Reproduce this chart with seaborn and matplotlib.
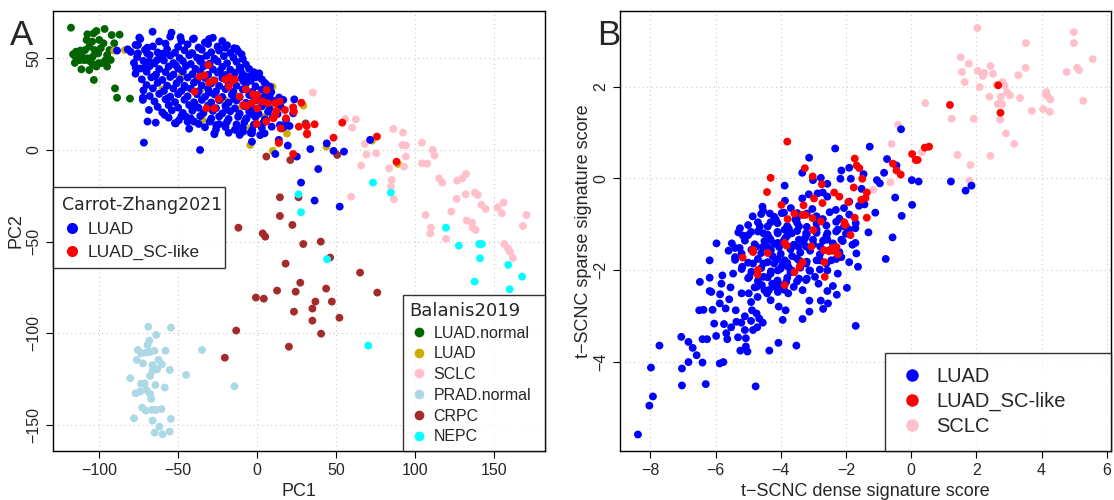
import matplotlib
matplotlib.use("Agg")
import matplotlib.pyplot as plt
import seaborn as sns
import pandas as pd
from matplotlib.lines import Line2D

# ---------------- Panel A data (PC1, PC2) ----------------
luad_normal_x = [-117.9, -107.5, -103.6, -101.8, -96.6, -92.1, -87.1, -112.0, -116.6, -114.7, -110.9, -108.6,
                 -104.1, -100.7, -95.0, -92.7, -97.3, -90.5, -106.3, -101.8, -111.3, -106.3, -103.4, -90.0,
                 -88.7, -80.5, -98.5, -95.0, -108.0, -104.5, -100.0, -110.0, -105.5, -115.0, -109.0, -103.0,
                 -99.0, -93.5, -96.0, -100.5, -104.0, -107.5, -112.5, -115.5]
luad_normal_y = [66.7, 63.1, 63.6, 64.9, 66.0, 62.7, 62.9, 54.2, 52.2, 53.6, 50.9, 49.1,
                 50.9, 52.7, 51.8, 49.1, 58.2, 58.2, 56.4, 45.5, 44.0, 43.6, 38.2, 33.6,
                 28.5, 28.0, 47.4, 45.5, 60.0, 59.1, 60.0, 49.1, 48.2, 50.9, 54.5, 54.5,
                 55.5, 54.5, 49.0, 47.3, 46.6, 50.0, 49.0, 47.5]

balanis_luad_x = [-90.5, -83.7, -75.7, -52.0, -42.0, -34.5, -22.4, -4.3, 9.8, 13.8, 29.3, 44.0,
                  89.3, -36.0, 72.8, -4.3, -60.0, -48.0, -20.0, -12.0, -66.0, 5.0, 10.0, -28.0, 19.0]
balanis_luad_y = [54.2, 54.5, 56.9, 53.0, 53.0, 16.4, 56.4, 2.7, 34.5, 3.6, 24.2, 1.8,
                  -7.6, 32.7, 5.1, 11.8, 33.0, 40.0, 27.0, 22.0, 48.0, 18.0, -0.5, 38.0, 9.0]

sclc_a_x = [35.4, 55.8, 62.6, 60.3, 86.4, 92.5, 92.1, 94.3, 94.3, 93.2, 83.7, 68.3, 69.4, 75.5, 66.0,
            104.5, 111.3, 112.5, 104.5, 107.9, 115.4, 117.4, 126.8, 130.2, 132.4, 85.3, 84.8, 86.8, 59.6,
            106.8, 123.1, 126.5, 132.2, 138.1, 139.9, 142.2, 144.9, 152.4, 156.2, 155.1, 170.7, 168.5,
            132.9, 136.3, 136.7, 138.5, 110.2, 109.8, 119.7, 156.7, 159.0, 160.3, 162.1]
sclc_a_y = [31.3, 16.9, 16.7, 12.2, 11.5, 9.5, 2.7, 2.4, -3.6, -9.1, -10.0, 3.3, -2.5, -1.8, -8.5,
            4.0, 0.0, -3.1, -7.3, -7.5, -15.5, -17.8, -16.7, -15.5, -13.1, -16.4, -20.0, -26.9, -25.5,
            -35.5, -33.6, -26.7, -24.2, -23.3, -24.5, -30.0, -32.2, -31.3, -28.7, -34.5, -35.5, -41.5,
            -38.5, -39.6, -42.4, -43.6, -42.4, -45.5, -48.5, -51.3, -53.6, -55.5, -58.9]

prad_x = [-68.9, -54.6, -63.9, -68.3, -69.4, -75.5, -73.5, -70.1, -67.8, -65.1, -58.0, -34.9, -76.2,
          -72.3, -62.4, -60.3, -66.2, -55.3, -63.3, -66.2, -67.8, -44.9, -80.3, -73.5, -71.2, -74.1,
          -70.1, -67.8, -64.4, -58.5, -14.3, -67.1, -72.8, -70.5, -66.7, -64.0, -60.5, -78.0, -66.2,
          -54.6, -61.9, -64.9, -59.9, -55.3, -76.9]
prad_y = [-96.4, -96.9, -100.9, -104.0, -106.4, -109.1, -110.9, -110.5, -110.2, -109.5, -109.5, -109.1,
          -114.5, -116.4, -114.5, -116.9, -117.3, -120.0, -119.6, -120.4, -123.3, -122.7, -124.5,
          -127.6, -127.3, -131.8, -130.9, -133.1, -128.2, -129.6, -128.9, -135.8, -140.5, -142.2,
          -141.8, -141.8, -141.3, -146.4, -147.6, -146.7, -150.9, -154.2, -155.1, -153.6, -132.7]

crpc_x = [5.9, 21.1, 50.8, 30.8, 14.5, 26.3, 14.5, 22.4, -11.8, 3.6, 5.2, 29.3, 40.4,
          46.3, 18.1, 65.3, 27.4, 12.7, 24.5, 43.8, 76.2, -0.7, 4.3, 37.0, 47.4, 35.1, 23.4,
          52.2, 35.1, -13.2, 40.6, 20.2, -20.4]
crpc_y = [-3.6, -5.5, -2.7, 14.5, -25.8, -25.8, -36.0, -40.9, -42.4, -45.5, -47.3, -51.3, -50.0,
          -58.7, -62.0, -66.9, -72.4, -76.7, -77.3, -75.6, -77.8, -80.5, -81.1, -82.7, -82.7, -86.5,
          -88.2, -91.5, -93.1, -98.5, -100.2, -107.3, -113.3]

nepc_x = [73.5, 84.8, 26.3, 27.9, 119.7, 127.9, 140.8, 142.5, 44.4, 141.3, 159.2, 168.0, 137.9, 160.1, 70.5]
nepc_y = [-17.8, -23.3, -24.2, -34.0, -42.4, -52.2, -51.3, -51.3, -59.6, -59.1, -62.7, -69.1, -71.8, -76.0, -106.7]

luad_a_x = [-88.7, -81.9, -74.6, -66.2, -54.2, -48.5, -40.6, -30.4, -20.2, -14.5, -9.8, -75.5, -75.5, -76.9,
            -70.5, -69.6, -68.3, -63.3, -58.7, -72.3, -72.3, -68.5, -69.4, -64.2, -71.7, -58.5, -51.5, -45.1,
            -39.9, -36.1, -27.0, -25.9, -20.2, -13.4, -8.8, -3.2, -3.2, 4.8, 11.6, 13.8, 19.5, 25.2, 33.8,
            38.8, 27.9, 36.5, 52.4, 44.2, 48.5, 55.1, 71.7, 1.4, 4.8, 8.2, 4.8, 9.0, 16.6, 23.6, 22.9, 18.4,
            17.2, 15.6, 20.6, 9.3, 14.5, 0.2, -4.3, -6.6, -6.6, -4.3, -0.9, 4.8,
            -74, -62, -55, -48, -40, -33, -28, -22,
            -77, -66, -58, -50, -44, -37, -31, -25, -19, -13,
            -80, -71, -63, -57, -52, -46, -41, -35, -29, -24, -17, -12,
            -76, -68, -61, -55, -49, -43, -38, -32, -27, -21, -15, -9,
            -78, -72, -65, -59, -53, -47, -42, -36, -30, -25, -19, -13, -7,
            -74, -68, -62, -56, -50, -45, -39, -34, -28, -22, -17, -11, -5,
            -77, -70, -64, -58, -53, -47, -41, -36, -31, -25, -20, -14, -9, -2,
            -73, -67, -60, -55, -49, -44, -38, -33, -27, -22, -16, -10, -4, 3,
            -70, -63, -57, -51, -46, -40, -35, -29, -24, -18, -13, -7, -1, 6,
            -72, -66, -59, -53, -48, -42, -37, -31, -26, -20, -15, -9, -3, 3, 9,
            -68, -62, -55, -50, -44, -38, -33, -27, -22, -16, -11, -5, 1, 8, 14,
            -65, -58, -52, -46, -40, -35, -29, -24, -18, -13, -7, -2, 5, 11,
            -63, -56, -50, -43, -37, -31, -26, -20, -14, -8, -3, 3, 8, 15,
            -60, -54, -47, -41, -34, -28, -22, -17, -11, -5, 1, 7, 13,
            -56, -48, -42, -36, -29, -24, -18, -12, -7, -1, 5, 10,
            -52, -44, -37, -30, -24, -19, -13, -8, -2, 4,
            -43, -33, -26, -20, -14, -9, -3, 3,
            -27, -18, -11, -4, 2,
            -69.5, -60.5, -51.5, -35.5, -23.5, -8.5, -64.5, -45.5, -30.5, -14.5, -56.5, -39.5,
            -19.5, -2.5, -49.5, -33.5, -10.5]
luad_a_y = [54.2, 54.9, 61.3, 64.5, 64.0, 61.5, 60.5, 60.5, 55.8, 55.5, 52.2, 57.3, 52.7, 44.9,
            45.5, 52.7, 48.2, 49.1, 52.7, 28.5, 27.3, 21.8, 15.5, 14.9, 4.0, 19.1, 14.5, 18.2,
            15.5, 0.0, 9.1, 13.6, 13.6, 10.9, 10.0, 4.5, 9.1, 9.1, -2.2, 5.5, 2.4, -3.6, 0.5,
            -10.4, -17.8, -27.6, -30.9, 3.6, -0.5, -0.9, 5.5, 41.8, 36.7, 34.5, 29.1, 27.3, 27.3, 27.6, 20.0, 16.4,
            12.7, 11.8, 13.1, 12.7, 13.6, 27.3, 21.8, 17.3, 40.0, 40.0, 39.6, 25.5,
            60.5, 59.2, 61.8, 59.5, 60.8, 58.6, 61.2, 59.4,
            57.3, 56.5, 58.0, 56.2, 57.6, 55.9, 57.8, 56.4, 57.1, 55.2,
            53.5, 54.6, 53.2, 54.9, 53.1, 54.4, 52.8, 54.7, 53.3, 54.2, 52.9, 53.8,
            50.6, 51.8, 50.2, 51.5, 50.1, 51.7, 50.3, 51.4, 49.8, 51.2, 50.4, 49.6,
            47.5, 48.6, 47.2, 48.8, 47.4, 48.5, 46.9, 48.3, 47.1, 48.4, 47.3, 48.1, 46.6,
            44.4, 45.7, 44.1, 45.5, 44.3, 45.8, 44.2, 45.6, 44.0, 45.3, 43.8, 45.1, 44.2,
            41.6, 42.7, 41.2, 42.5, 41.1, 42.8, 41.3, 42.6, 41.0, 42.2, 40.9, 42.1, 41.2, 42.4,
            38.5, 39.6, 38.2, 39.8, 38.4, 39.5, 38.1, 39.3, 37.9, 39.2, 38.0, 39.1, 37.8, 38.6,
            35.4, 36.6, 35.1, 36.4, 35.0, 36.7, 35.2, 36.3, 34.9, 36.1, 35.0, 36.2, 34.7, 35.6,
            32.5, 33.6, 32.2, 33.5, 32.1, 33.4, 31.9, 33.3, 32.0, 33.2, 31.8, 33.0, 31.7, 32.9, 31.6,
            29.4, 30.6, 29.1, 30.5, 29.2, 30.4, 29.0, 30.3, 28.9, 30.1, 28.8, 30.0, 28.7, 29.8, 28.6,
            26.5, 27.6, 26.1, 27.4, 26.0, 27.3, 25.9, 27.1, 25.8, 27.0, 25.7, 26.8, 25.6, 26.7,
            23.5, 24.4, 23.1, 24.5, 23.0, 24.3, 22.8, 24.1, 22.7, 23.9, 22.6, 23.8, 22.5, 23.6,
            20.5, 21.6, 20.2, 21.4, 20.1, 21.3, 19.9, 21.1, 19.8, 21.0, 19.7, 20.9, 19.6,
            17.6, 18.4, 17.2, 18.5, 17.1, 18.3, 16.9, 18.1, 16.8, 17.9, 16.7, 17.8,
            14.6, 15.4, 14.2, 15.5, 14.1, 15.3, 13.9, 15.1, 13.8, 14.9,
            11.6, 12.4, 11.2, 12.5, 11.1, 12.3, 10.9, 12.1,
            8.6, 9.4, 8.2, 9.3, 8.1,
            55.8, 52.4, 46.2, 49.7, 43.1, 37.4, 40.3, 34.2, 31.2, 27.9, 28.2, 24.9,
            22.1, 19.3, 16.2, 46.3, 43.6]

sclike_a_x = [-30.8, -36.5, -33.3, -30.4, -27.4, -20.2, -17.5, -15.2, -14.1, -39.5, -7.0, 0.2, -0.9,
              6.1, 3.6, 7.0, 11.6, 14.3, -11.1, -24.3, -32.0, -27.0, -8.8, -6.6, -3.6, 0.2, 12.2, 17.7,
              11.6, 18.4, 5.9, -0.2, 10.4, 15.0, 22.9, 28.1, 23.4, 26.5, 31.5, 31.7, 36.5, 31.7, 13.8,
              22.9, 54.0, 48.5, 76.0, 88.4, -2.5, -17.9]
sclike_a_y = [46.3, 40.0, 40.7, 36.7, 37.8, 38.5, 39.5, 37.8, 38.5, 31.8, 33.1, 30.0, 27.3,
              32.7, 26.4, 25.5, 25.5, 26.4, 29.1, 27.8, 22.7, 22.7, 24.5, 24.0, 25.5, 22.7, 21.3, 21.8,
              19.1, 17.3, 15.5, 14.2, 17.3, 11.8, 23.3, 25.8, 20.9, 12.7, 13.1, 9.1, 14.0, 8.5, 4.0,
              -2.2, 14.9, 6.7, 7.3, -6.4, 30.4, 34.5]

# ---------------- Panel B data (dense, sparse scores) ----------------
sclc_b_x = [2.03, 4.99, 4.99, 3.52, 1.52, 1.77, 1.56, 1.64, 2.04, 2.20, 2.24, 2.43, 2.51, 2.10, 2.40,
            2.62, 2.80, 2.86, 2.94, 3.03, 2.75, 2.66, 2.79, 2.73, 3.29, 3.51, 3.34, 3.70, 4.05, 4.12,
            4.20, 4.27, 4.25, 4.15, 4.77, 5.09, 5.15, 5.57, 5.28, 0.43, 1.24, 1.92, 2.91, 3.16, 2.43,
            1.42, 1.82, 1.79, 0.33, -0.60, -0.40, -0.64, -1.16]
sclc_b_y = [3.28, 3.19, 2.95, 2.95, 2.64, 2.50, 2.32, 2.10, 2.34, 2.23, 2.30, 2.45, 2.28, 1.99, 1.78,
            2.03, 2.10, 2.03, 1.88, 1.81, 1.78, 1.62, 1.62, 1.28, 2.25, 2.41, 1.75, 1.47, 1.51, 1.83,
            1.78, 1.72, 1.45, 1.88, 2.32, 2.41, 2.36, 2.60, 1.69, 1.64, 1.30, 1.30, 0.98, 0.75, 0.49,
            0.51, 0.29, -0.05, 0.57, 0.75, 1.17, -0.09, -0.25]

sclike_b_x = [2.67, 2.74, 1.19, 0.55, 0.42, 0.03, 0.14, 0.20, -0.56, -0.45, -0.32, -1.73, -1.67, -1.59,
              -1.50, -1.76, -1.36, -1.40, -1.36, -1.73, -1.93, -2.20, -2.05, -2.36, -2.72, -2.74, -2.98,
              -3.02, -3.26, -3.30, -3.58, -3.79, -4.31, -4.42, -3.80, -2.77, -3.02, -3.24, -3.88, -3.82,
              -3.06, -2.42, -2.29, -4.85, -5.17, -4.85, -4.71, -3.58, -3.42, -2.66, -2.65, -2.52, -2.25,
              -2.41, -3.98, -3.33, -3.00, -2.67, -4.40, -4.70, -3.88, -3.33, -2.02, -1.53, -1.86]
sclike_b_y = [2.03, 1.43, 1.60, 0.69, 0.67, 0.53, 0.40, 0.40, 0.32, 0.17, 0.08, 0.43, 0.28, 0.22,
              -0.01, -0.20, -0.31, -0.43, -0.86, -0.86, -0.52, -0.40, -0.96, -0.31, -0.54, -0.13, -0.44,
              0.04, 0.22, -0.59, -0.77, -0.89, 0.01, -0.30, 0.80, -0.94, -0.87, -0.80, -1.41, -1.47,
              -1.49, -1.52, -1.50, -1.56, -1.73, -1.61, -2.10, -2.05, -1.93, -1.83, -2.15, -1.59, -1.66,
              -1.58, -0.58, -0.80, -1.13, -1.57, -1.63, -2.00, -2.33, -1.83, -1.02, -0.47, -1.24]

luad_b_x = [-0.31, -1.27, -2.33, -3.13, -0.74, -0.45, -0.83, -1.05, -0.96, 0.02, 0.23, 1.22, 1.67, 1.85,
            -0.49, 0.03, -0.29, -0.57, -1.31, -1.10, -1.46, -1.52, -1.43, -1.60, -1.85, -1.90, -2.14,
            -2.17, -1.90, -2.06, -2.31, -2.57, -2.77, -3.01, -3.34, -3.88, -3.87, -3.34, -3.14, -2.87,
            -2.71, -4.56, -4.54, -4.33, -4.86, -3.97, -3.69, -3.49, -4.31, -4.64, -5.25, -5.16, -5.97,
            -5.40, -5.26, -4.91, -4.75, -2.57, -3.03, -2.71, -2.06, -1.71, -1.90, -2.57, -2.25, -2.90,
            -3.22, -3.44, -3.66, -4.09, -3.88, -4.53, -4.31, -4.09, -3.44, -3.01, -2.57, -2.14, -1.71,
            -3.22, -2.79, -3.66, -4.42,
            -0.78, -1.63, -1.90, -1.68, -1.97, -2.28, -2.40, -2.57, -2.77, -2.70, -2.55, -3.12, -3.12,
            -3.33, -3.94, -3.85, -4.06, -1.70, -3.52, -4.07, -4.35, -4.77, -5.02, -5.07, -5.24, -5.07,
            -5.31, -5.64, -5.67, -5.52, -5.74, -6.04, -5.98, -6.26, -6.40, -6.40, -6.30, -5.87, -5.76,
            -6.58, -6.70, -6.83, -7.05, -6.83, -7.03, -7.03, -7.72, -7.98, -7.92, -8.03, -8.38, -6.48,
            -6.18, -6.13, -5.86, -5.82, -5.79, -6.18, -6.18, -6.50, -6.37, -6.09, -5.87, -5.69, -5.58,
            -5.54, -5.46, -5.40, -5.20, -5.38, -5.36, -5.10, -4.91, -4.85, -5.21, -4.88, -4.74, -4.66,
            -4.55, -4.72, -5.10, -4.91, -4.71, -4.98, -4.42, -4.31, -4.09, -3.77, -4.58, -4.26, -4.01,
            -3.83, -3.44, -3.22, -2.95, -2.84, -3.33, -3.66, -4.31, -4.53, -4.96, -5.18, -4.85, -4.53,
            -4.20, -3.88, -3.22, -2.79, -2.45, -2.14, -2.57, -2.25, -4.09, -3.77, -3.44, -3.12, -4.74,
            -4.36,
            -4.6, -4.2, -3.9, -3.5, -3.2, -2.9, -2.5, -2.2, -1.9,
            -5.0, -4.7, -4.4, -4.1, -3.8, -3.5, -3.2, -2.9, -2.6, -2.3, -2.0, -1.7,
            -5.3, -5.0, -4.7, -4.4, -4.1, -3.8, -3.5, -3.2, -2.9, -2.6, -2.3, -2.0,
            -5.5, -5.1, -4.8, -4.5, -4.2, -3.9, -3.6, -3.3, -3.0, -2.7, -2.4, -2.1, -1.8,
            -5.6, -5.2, -4.9, -4.6, -4.3, -4.0, -3.7, -3.4, -3.1, -2.8, -2.5, -2.2,
            -5.4, -5.0, -4.7, -4.4, -4.1, -3.8, -3.5, -3.2, -2.9, -2.6, -2.3,
            -5.2, -4.9, -4.6, -4.3, -4.0, -3.7, -3.4, -3.1, -2.8,
            -5.0, -4.7, -4.4, -4.1, -3.8, -3.5, -3.2,
            -4.8, -4.5, -4.2, -3.9, -3.6,
            -4.05, -3.85, -4.25, -3.65, -3.75, -4.35, -3.95, -3.45, -4.55, -3.25, -4.15, -3.55]
luad_b_y = [1.07, 0.69, 0.65, 0.45, 0.42, 0.28, 0.12, -0.04, -0.11, -0.04, -0.07, -0.07, -0.27, -0.16,
            -0.42, -0.58, -0.82, -1.29, -1.18, -0.75, 0.09, -0.23, -0.57, -0.60, -0.01, 0.23, 0.17,
            -0.01, -0.51, -0.65, -0.69, -0.12, 0.01, -0.04, 0.12, -0.16, -0.49, -0.44, -0.35, -0.33,
            -0.31, -0.62, -0.71, -0.77, -0.83, -0.76, -0.65, -0.76, -0.96, -1.05, -1.09, -1.25, -1.42,
            -1.52, -1.52, -1.17, -1.49, -0.40, -0.67, -0.89, -1.05, -1.09, -1.12, -1.20, -1.12, -1.12,
            -1.20, -1.05, -1.20, -1.20, -1.12, -1.20, -1.34, -1.41, -1.34, -1.34, -1.34, -1.34, -1.41,
            -1.49, -1.49, -1.49, -1.49,
            -1.76, -1.93, -1.83, -1.64, -2.39, -2.54, -2.35, -2.46, -2.67, -2.85, -2.73, -2.67, -2.91,
            -3.07, -3.09, -2.88, -2.80, -3.22, -3.65, -3.59, -3.76, -4.54, -3.78, -3.67, -3.76, -3.49,
            -3.47, -3.51, -3.38, -3.25, -3.18, -3.17, -3.44, -3.51, -3.51, -4.02, -4.49, -4.04, -4.01,
            -3.86, -3.70, -3.57, -3.46, -4.01, -4.15, -4.52, -3.65, -4.13, -4.76, -4.96, -5.59, -2.26,
            -2.46, -2.48, -2.53, -2.30, -2.12, -1.79, -2.17, -2.88, -2.87, -2.87, -2.73, -2.84, -2.64,
            -2.38, -2.08, -1.72, -2.51, -2.88, -3.13, -3.01, -3.11, -3.31, -3.15, -2.88, -2.95, -3.06,
            -3.15, -3.25, -3.31, -2.70, -2.59, -2.51, -2.51, -2.66, -2.48, -2.51, -2.33, -2.30, -2.33,
            -2.26, -2.19, -2.22, -2.15, -2.30, -2.44, -2.01, -2.08, -2.15, -2.15, -1.93, -1.86, -1.86,
            -1.86, -1.79, -1.86, -1.79, -1.79, -1.72, -2.01, -2.08, -2.01, -1.93, -1.79, -2.01, -2.37,
            -2.44,
            -0.78, -0.84, -0.75, -0.86, -0.77, -0.83, -0.74, -0.88, -0.79,
            -1.02, -0.96, -1.05, -0.98, -1.04, -0.97, -1.06, -0.99, -1.03, -0.95, -1.05, -0.98,
            -1.18, -1.24, -1.16, -1.23, -1.17, -1.25, -1.15, -1.22, -1.19, -1.26, -1.16, -1.21,
            -1.42, -1.36, -1.44, -1.37, -1.43, -1.35, -1.45, -1.38, -1.44, -1.36, -1.42, -1.37, -1.45,
            -1.58, -1.64, -1.56, -1.63, -1.57, -1.65, -1.55, -1.62, -1.58, -1.66, -1.57, -1.61,
            -1.78, -1.84, -1.76, -1.83, -1.77, -1.85, -1.75, -1.82, -1.79, -1.86, -1.76,
            -1.98, -2.04, -1.96, -2.03, -1.97, -2.05, -1.95, -2.02, -1.99,
            -2.18, -2.24, -2.16, -2.23, -2.17, -2.25, -2.19,
            -2.38, -2.44, -2.36, -2.43, -2.37,
            -1.50, -1.30, -1.70, -1.70, -1.10, -1.30, -1.90, -1.50, -1.50, -1.30, -0.90, -0.90]

balanis_groups = ["LUAD.normal", "LUAD", "SCLC", "PRAD.normal", "CRPC", "NEPC"]
carrot_groups = ["LUAD", "LUAD_SC-like"]
b_groups = ["LUAD", "LUAD_SC-like", "SCLC"]

pal = {"LUAD.normal": "#006400", "LUAD_B": "#CDAD00", "SCLC": "#FFC0CB", "PRAD.normal": "#ADD8E6",
       "CRPC": "#A52A2A", "NEPC": "#00FFFF", "LUAD": "#0000FF", "LUAD_SC-like": "#FF0000"}

# ---------------- styling ----------------
sns.set_style("ticks")
plt.rcParams["font.family"] = ["Liberation Sans", "DejaVu Sans"]
plt.rcParams["axes.unicode_minus"] = True

fig = plt.figure(figsize=(11.14, 5.0), dpi=100)
axA = fig.add_axes([53 / 1114, 1 - 451 / 500, 492 / 1114, 440 / 500])
axB = fig.add_axes([620 / 1114, 1 - 451 / 500, 491 / 1114, 440 / 500])


def frame(df_parts):
    frames = []
    for key, xs, ys in df_parts:
        frames.append(pd.DataFrame({"x": xs, "y": ys, "g": key}))
    return pd.concat(frames, ignore_index=True)


dfA = frame([("LUAD.normal", luad_normal_x, luad_normal_y),
             ("LUAD_B", balanis_luad_x, balanis_luad_y),
             ("SCLC", sclc_a_x, sclc_a_y),
             ("PRAD.normal", prad_x, prad_y),
             ("CRPC", crpc_x, crpc_y),
             ("NEPC", nepc_x, nepc_y),
             ("LUAD", luad_a_x, luad_a_y),
             ("LUAD_SC-like", sclike_a_x, sclike_a_y)])
dfB = frame([("SCLC", sclc_b_x, sclc_b_y),
             ("LUAD", luad_b_x, luad_b_y),
             ("LUAD_SC-like", sclike_b_x, sclike_b_y)])

sns.scatterplot(data=dfA, x="x", y="y", hue="g", palette=pal, s=32, linewidth=0,
                legend=False, ax=axA, zorder=3)
sns.scatterplot(data=dfB, x="x", y="y", hue="g", palette=pal, s=32, linewidth=0,
                legend=False, ax=axB, zorder=3)

axA.set_xlim(-129.3, 182.5)
axA.set_ylim(-164.2, 75.8)
axA.set_xticks([-100, -50, 0, 50, 100, 150])
axA.set_yticks([-150, -100, -50, 0, 50])
axB.set_xlim(-8.93, 6.13)
axB.set_ylim(-5.95, 3.65)
axB.set_xticks([-8, -6, -4, -2, 0, 2, 4, 6])
axB.set_yticks([-4, -2, 0, 2])

for ax in (axA, axB):
    ax.grid(True, linestyle=(0, (1, 3)), color="#c8c8c8", linewidth=0.8, zorder=0)
    ax.set_axisbelow(True)
    for sp in ax.spines.values():
        sp.set_visible(True)
        sp.set_color("black")
        sp.set_linewidth(1.0)
    ax.tick_params(axis="both", direction="out", length=5, width=0.8, labelsize=11.5, color="black")
    ax.tick_params(axis="y", labelrotation=90)
    for lab in ax.get_yticklabels():
        lab.set_verticalalignment("center")

axA.set_xlabel("PC1", fontsize=13, labelpad=4)
axA.set_ylabel("PC2", fontsize=13, labelpad=1)
axB.set_xlabel("t\u2212SCNC dense signature score", fontsize=13, labelpad=4)
axB.set_ylabel("t\u2212SCNC sparse signature score", fontsize=13, labelpad=1)

fig.text(10 / 1114, 1 - 45 / 500, "A", fontsize=25, va="baseline")
fig.text(597 / 1114, 1 - 45 / 500, "B", fontsize=25, va="baseline")


def handle(color, ms):
    return Line2D([0], [0], marker="o", linestyle="none", markersize=ms,
                  markerfacecolor=color, markeredgewidth=0)


leg1 = axA.legend([handle(pal["LUAD"], 8), handle(pal["LUAD_SC-like"], 8)], carrot_groups,
                  title="Carrot-Zhang2021", loc="upper left", bbox_to_anchor=(0, 0.3, 0.35, 0.3),
                  mode="expand", borderaxespad=0, frameon=True, fancybox=False, edgecolor="black",
                  fontsize=12.5, title_fontsize=12.5, handletextpad=0.3, handlelength=1.2,
                  labelspacing=0.45, borderpad=0.5, alignment="left")
leg1.get_frame().set_linewidth(1.0)
leg1.get_title().set_family(["DejaVu Sans"])
leg1.set_zorder(5)
axA.add_artist(leg1)

bal_colors = [pal["LUAD.normal"], pal["LUAD_B"], pal["SCLC"], pal["PRAD.normal"], pal["CRPC"], pal["NEPC"]]
leg2 = axA.legend([handle(c, 7) for c in bal_colors], balanis_groups,
                  title="Balanis2019", loc="lower left", bbox_to_anchor=(0.711, 0, 0.289, 0.4),
                  mode="expand", borderaxespad=0, frameon=True, fancybox=False, edgecolor="black",
                  fontsize=11.5, title_fontsize=13, handletextpad=0.3, handlelength=1.2,
                  labelspacing=0.36, borderpad=0.42, alignment="left")
leg2.get_frame().set_linewidth(1.0)
leg2.get_title().set_family(["DejaVu Sans"])
leg2.set_zorder(5)

legB = axB.legend([handle(pal[g], 9) for g in b_groups], b_groups,
                  loc="lower left", bbox_to_anchor=(0.54, 0, 0.46, 0.3), mode="expand",
                  borderaxespad=0, frameon=True, fancybox=False, edgecolor="black",
                  fontsize=14.5, handletextpad=0.6, handlelength=1.2, labelspacing=0.3,
                  borderpad=0.72)
legB.get_frame().set_linewidth(1.0)
legB.set_zorder(5)

fig.savefig("out.png", dpi=100)
